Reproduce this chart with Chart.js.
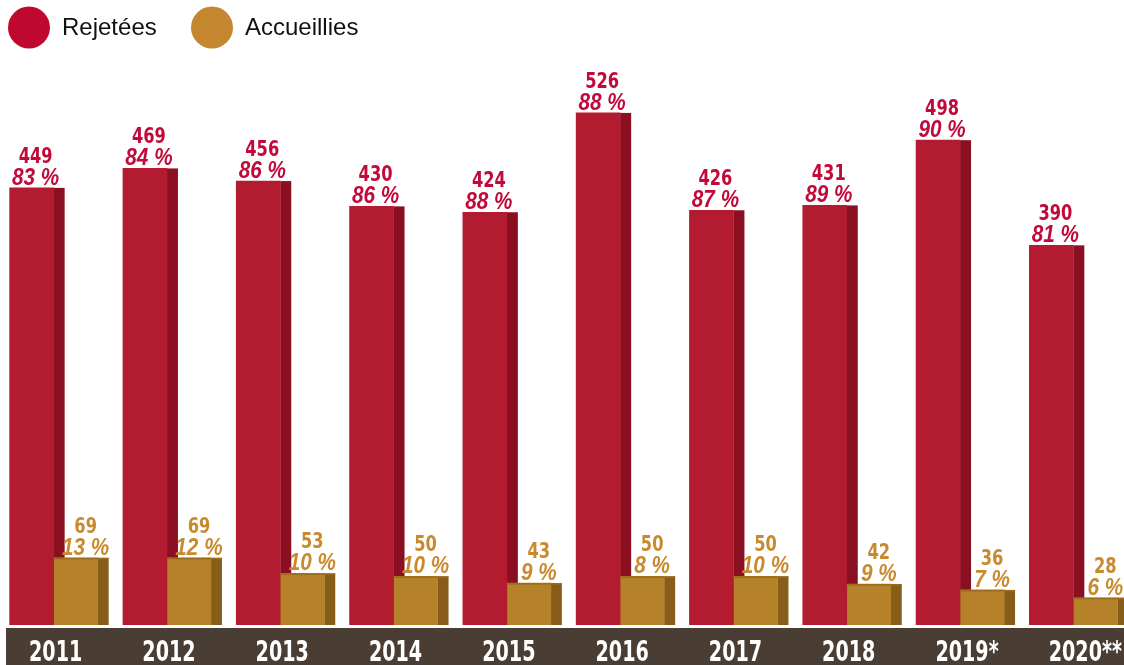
<!DOCTYPE html>
<html>
<head>
<meta charset="utf-8">
<script src="https://cdn.jsdelivr.net/npm/chart.js@4.4.0/dist/chart.umd.min.js"></script>
<style>
  html, body { margin: 0; padding: 0; background: #fff; overflow: hidden; }
  #wrap { position: relative; width: 1124px; height: 665px; overflow: hidden; }
  #chart { position: absolute; left: -20px; top: 0; }
</style>
</head>
<body>
<div id="wrap"><canvas id="chart" width="1160" height="665"></canvas></div>
<script>
var years = ["2011", "2012", "2013", "2014", "2015", "2016", "2017", "2018", "2019*", "2020**"];
var rejetees = [449, 469, 456, 430, 424, 526, 426, 431, 498, 390];
var rejeteesPct = [83, 84, 86, 86, 88, 88, 87, 89, 90, 81];
var accueillies = [69, 69, 53, 50, 43, 50, 50, 42, 36, 28];
var accueilliesPct = [13, 12, 10, 10, 9, 8, 10, 9, 7, 6];

var SANS = '"Liberation Sans", Arial, sans-serif';
var HEAVY = '"DejaVu Sans Condensed", "DejaVu Sans", sans-serif';
var SIDE = 11;

var faces = [
  { front: "#b31c30", side: "#8a0f21", text: "#c20a3a", shift: 4 },
  { front: "#b5822a", side: "#875d19", text: "#c98a2e", shift: 10 }
];
var percents = [rejeteesPct, accueilliesPct];

// text squeezed horizontally to get a condensed look
function narrowText(ctx, str, x, y, sx, align) {
  ctx.save();
  ctx.translate(x, y);
  ctx.scale(sx, 1);
  ctx.textAlign = align || "center";
  ctx.fillText(str, 0, 0);
  ctx.restore();
}

// flat side face on the right of each bar, drawn before the fronts
var sideFaces = {
  id: "sideFaces",
  beforeDatasetsDraw: function (chart) {
    var ctx = chart.ctx;
    ctx.save();
    chart.data.datasets.forEach(function (ds, d) {
      chart.getDatasetMeta(d).data.forEach(function (bar) {
        ctx.fillStyle = faces[d].side;
        ctx.fillRect(bar.x + bar.width / 2, bar.y, SIDE, bar.base - bar.y);
      });
    });
    ctx.restore();
  },
  afterDatasetsDraw: function (chart) {
    var ctx = chart.ctx;
    ctx.save();
    // thin top edge on the gold bars
    chart.getDatasetMeta(1).data.forEach(function (bar) {
      ctx.fillStyle = "#9a6b1c";
      ctx.fillRect(bar.x - bar.width / 2, bar.y, bar.width + SIDE, 1.5);
    });
    // value and share above each bar
    ctx.textBaseline = "alphabetic";
    chart.data.datasets.forEach(function (ds, d) {
      chart.getDatasetMeta(d).data.forEach(function (bar, i) {
        var cx = bar.x + faces[d].shift;
        ctx.fillStyle = faces[d].text;
        ctx.font = "bold 21px " + HEAVY;
        narrowText(ctx, String(ds.data[i]), cx, bar.y - 25, 0.86);
        ctx.font = "italic bold 23px " + SANS;
        narrowText(ctx, percents[d][i] + " %", cx, bar.y - 3, 0.9);
      });
    });
    ctx.restore();
  }
};

// dark band with the years under the bars, plus the legend
var yearBand = {
  id: "yearBand",
  afterDraw: function (chart) {
    var ctx = chart.ctx;
    var x = chart.scales.x;
    ctx.save();
    ctx.fillStyle = "#4a3e34";
    ctx.fillRect(26, 628, chart.width - 26, 37);
    ctx.fillStyle = "#ffffff";
    ctx.font = "bold 28px " + HEAVY;
    ctx.textBaseline = "alphabetic";
    years.forEach(function (y, i) {
      var digits = ctx.measureText(y.replace(/\*/g, "")).width * 0.76;
      narrowText(ctx, y, x.getPixelForValue(i) - digits / 2 + 2, 661, 0.76, "left");
    });
    ctx.font = "24px " + SANS;
    ctx.textBaseline = "middle";
    ctx.textAlign = "left";
    var items = [["Rejetées", "#c0082f", 49], ["Accueillies", "#c4862f", 232]];
    items.forEach(function (it) {
      ctx.fillStyle = it[1];
      ctx.beginPath();
      ctx.arc(it[2], 27.5, 21, 0, Math.PI * 2);
      ctx.fill();
      ctx.fillStyle = "#111111";
      ctx.fillText(it[0], it[2] + 33, 28);
    });
    ctx.restore();
  }
};

new Chart(document.getElementById("chart"), {
  type: "bar",
  data: {
    labels: years,
    datasets: [{
      label: "Rejetées",
      data: rejetees,
      backgroundColor: faces[0].front,
      barThickness: 44
    }, {
      label: "Accueillies",
      data: accueillies,
      backgroundColor: faces[1].front,
      barThickness: 44
    }]
  },
  options: {
    responsive: false,
    animation: false,
    devicePixelRatio: 1,
    layout: { padding: { left: 17, right: 10, top: 0, bottom: 40 } },
    scales: {
      x: { display: false },
      y: { display: false, min: 0, max: 642 }
    },
    plugins: {
      legend: { display: false },
      tooltip: { enabled: false }
    }
  },
  plugins: [sideFaces, yearBand]
});
</script>
</body>
</html>
